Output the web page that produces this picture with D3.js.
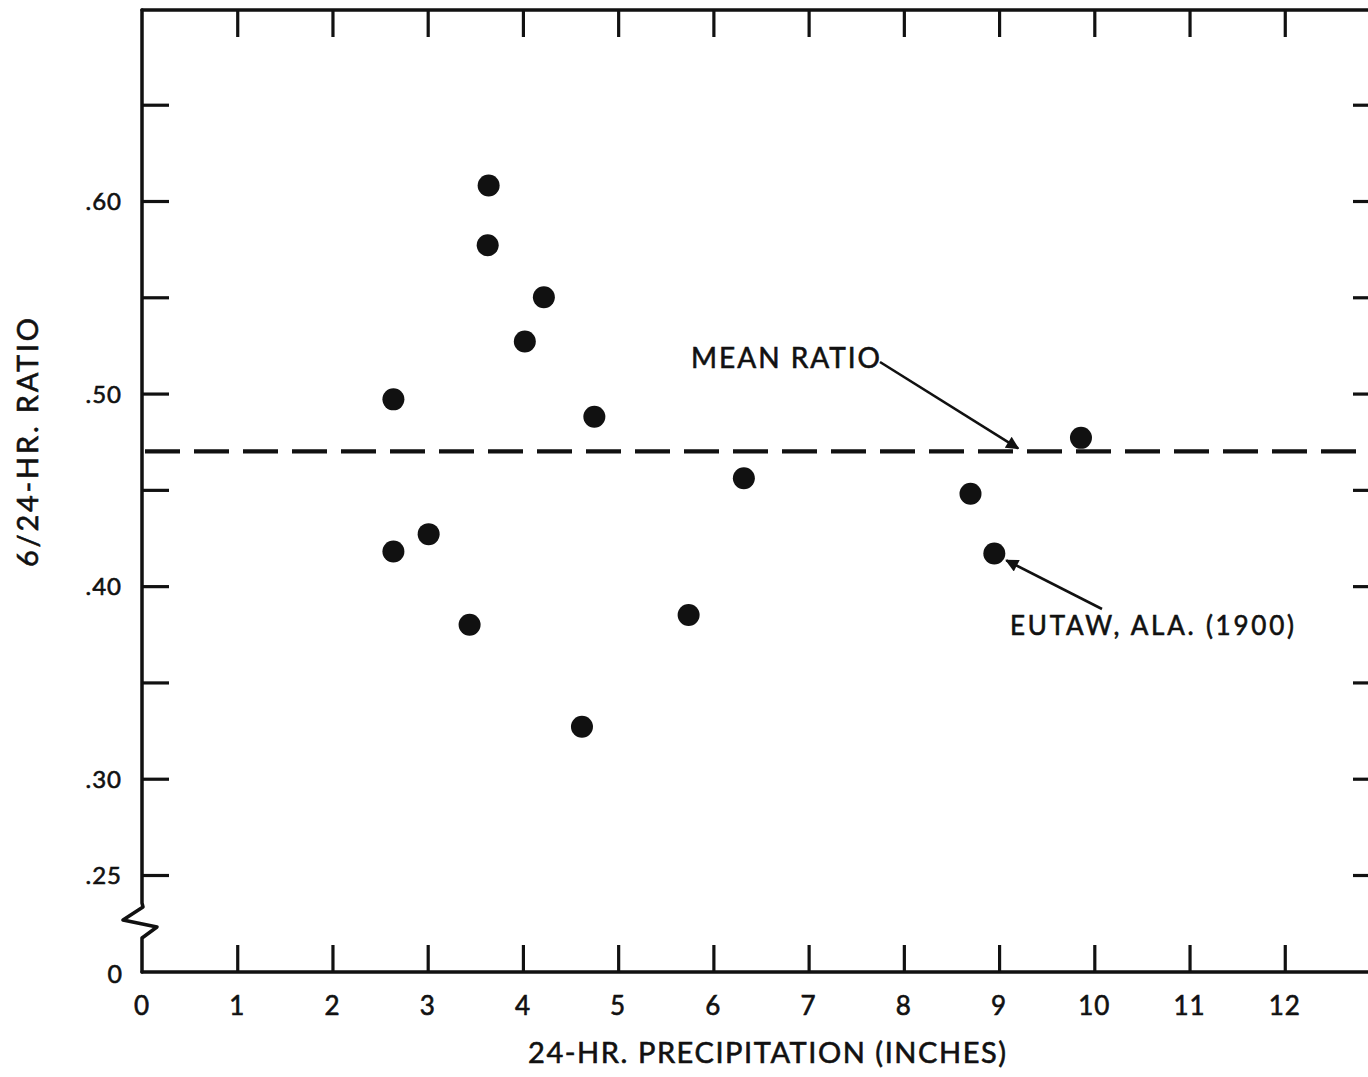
<!DOCTYPE html>
<html>
<head>
<meta charset="utf-8">
<script src="https://cdn.jsdelivr.net/npm/d3@7"></script>
<style>
  html, body { margin: 0; padding: 0; background: #fff; }
  svg { display: block; }
  text { font-family: Lato, "DejaVu Sans", sans-serif; fill: #111; stroke: #111; stroke-width: 0.6px; }
</style>
</head>
<body>
<svg id="chart" width="1368" height="1077"></svg>
<script>
// ---- data ----
const precipInches = [2.64, 2.64, 3.01, 3.44, 3.64, 3.63, 4.22, 4.02, 4.75, 4.62, 5.74, 6.32, 8.70, 8.95, 9.86];
const ratioValues  = [0.497, 0.418, 0.427, 0.380, 0.608, 0.577, 0.550, 0.527, 0.488, 0.327, 0.385, 0.456, 0.448, 0.417, 0.477];
const meanRatio = 0.470;
const xTickValues = [0,1,2,3,4,5,6,7,8,9,10,11,12];
const xTickLabels = ["0","1","2","3","4","5","6","7","8","9","10","11","12"];
const yTickValues = [0.25,0.30,0.35,0.40,0.45,0.50,0.55,0.60,0.65];
const yLabelValues = [0.25,0.30,0.40,0.50,0.60];
const yLabelTexts = [".25",".30",".40",".50",".60"];
const yBreakValue = 0.20;       // position of the broken axis origin
const yBreakLabel = "0";
const xTitle = "24-HR. PRECIPITATION (INCHES)";
const yTitle = "6/24-HR. RATIO";
const meanLabel = "MEAN RATIO";
const eutawLabel = "EUTAW, ALA. (1900)";
const eutawIndex = 13;

// ---- layout ----
const svg = d3.select("#chart");
const x = d3.scaleLinear().domain([0, 13]).range([142, 1380]);
const y = d3.scaleLinear().domain([0.25, 0.60]).range([875, 201]);
const frameTop = 10, frameBottom = 972, frameLeft = x(0), frameRight = x(13);
const tickLen = 27;
const ink = "#111";

// arrow marker
const defs = svg.append("defs");
defs.append("marker").attr("id","arrow").attr("viewBox","0 0 10 10")
  .attr("refX",9).attr("refY",5).attr("markerWidth",7).attr("markerHeight",5)
  .attr("markerUnits","strokeWidth").attr("orient","auto")
  .append("path").attr("d","M0,0 L10,5 L0,10 Z").attr("fill",ink);

// axes (ticks only; frame drawn separately)
function styleAxis(g) {
  g.select(".domain").remove();
  g.selectAll(".tick line").attr("stroke", ink).attr("stroke-width", 3.2);
  g.selectAll(".tick text").remove();
}
svg.append("g").attr("transform",`translate(0,${frameTop})`)
  .call(d3.axisTop(x).tickValues(xTickValues.slice(1)).tickSize(-tickLen)).call(styleAxis);
svg.append("g").attr("transform",`translate(0,${frameBottom})`)
  .call(d3.axisBottom(x).tickValues(xTickValues.slice(1)).tickSize(-tickLen)).call(styleAxis);
svg.append("g").attr("transform",`translate(${frameLeft},0)`)
  .call(d3.axisLeft(y).tickValues(yTickValues).tickSize(-tickLen)).call(styleAxis);
svg.append("g").attr("transform",`translate(${frameRight},0)`)
  .call(d3.axisRight(y).tickValues(yTickValues).tickSize(-tickLen)).call(styleAxis);

// frame
const frame = svg.append("g").attr("fill","none").attr("stroke",ink).attr("stroke-width",3.5)
  .attr("stroke-linejoin","round").attr("stroke-linecap","round");
frame.append("path").attr("d", `M${frameLeft},${frameBottom} L${frameRight},${frameBottom} L${frameRight},${frameTop} L${frameLeft},${frameTop}`);
// left axis with break squiggle
frame.append("path").attr("d",
  `M${frameLeft},${frameTop} L${frameLeft},903 L${frameLeft+1},907 L${frameLeft-19},920 L${frameLeft+15},927 L${frameLeft},938 L${frameLeft},${frameBottom}`);

// x labels
svg.append("g").selectAll("text").data(xTickValues).join("text")
  .attr("x", d => x(d)).attr("y", 1015).attr("text-anchor","middle")
  .attr("font-size", 26).attr("letter-spacing", 1).text((d,i) => xTickLabels[i]);
// y labels
svg.append("g").selectAll("text").data(yLabelValues).join("text")
  .attr("x", 122).attr("y", d => y(d) + 9).attr("text-anchor","end")
  .attr("font-size", 24).attr("letter-spacing", 1).text((d,i) => yLabelTexts[i]);
svg.append("text").attr("x", 122).attr("y", y(yBreakValue) + 12).attr("text-anchor","end")
  .attr("font-size", 25).text(yBreakLabel);

// titles
svg.append("text").attr("x", 528).attr("y", 1063)
  .attr("font-size", 29).attr("textLength", 478).attr("lengthAdjust","spacing").text(xTitle);
svg.append("text").attr("transform", `translate(38,567) rotate(-90)`)
  .attr("font-size", 29).attr("textLength", 249).attr("lengthAdjust","spacing").text(yTitle);

// mean ratio dashed line
svg.append("line").attr("x1", frameLeft + 3).attr("x2", frameRight).attr("y1", y(meanRatio)).attr("y2", y(meanRatio))
  .attr("stroke", ink).attr("stroke-width", 4.2).attr("stroke-dasharray","35,14");

// points
svg.append("g").selectAll("circle").data(precipInches).join("circle")
  .attr("cx", d => x(d)).attr("cy", (d,i) => y(ratioValues[i])).attr("r", 11).attr("fill", ink);

// annotations
svg.append("text").attr("x", 691).attr("y", 368).attr("font-size", 28)
  .attr("textLength", 189).attr("lengthAdjust","spacing").text(meanLabel);
svg.append("line").attr("x1", 880).attr("y1", 362).attr("x2", x(9.2)).attr("y2", y(meanRatio) - 3)
  .attr("stroke", ink).attr("stroke-width", 2.6).attr("marker-end","url(#arrow)");

svg.append("text").attr("x", 1010).attr("y", 635).attr("font-size", 26)
  .attr("textLength", 284).attr("lengthAdjust","spacing").text(eutawLabel);
const ex = x(precipInches[eutawIndex]), ey = y(ratioValues[eutawIndex]);
svg.append("line").attr("x1", 1102).attr("y1", 609).attr("x2", ex + 12).attr("y2", ey + 7)
  .attr("stroke", ink).attr("stroke-width", 2.6).attr("marker-end","url(#arrow)");
</script>
</body>
</html>
